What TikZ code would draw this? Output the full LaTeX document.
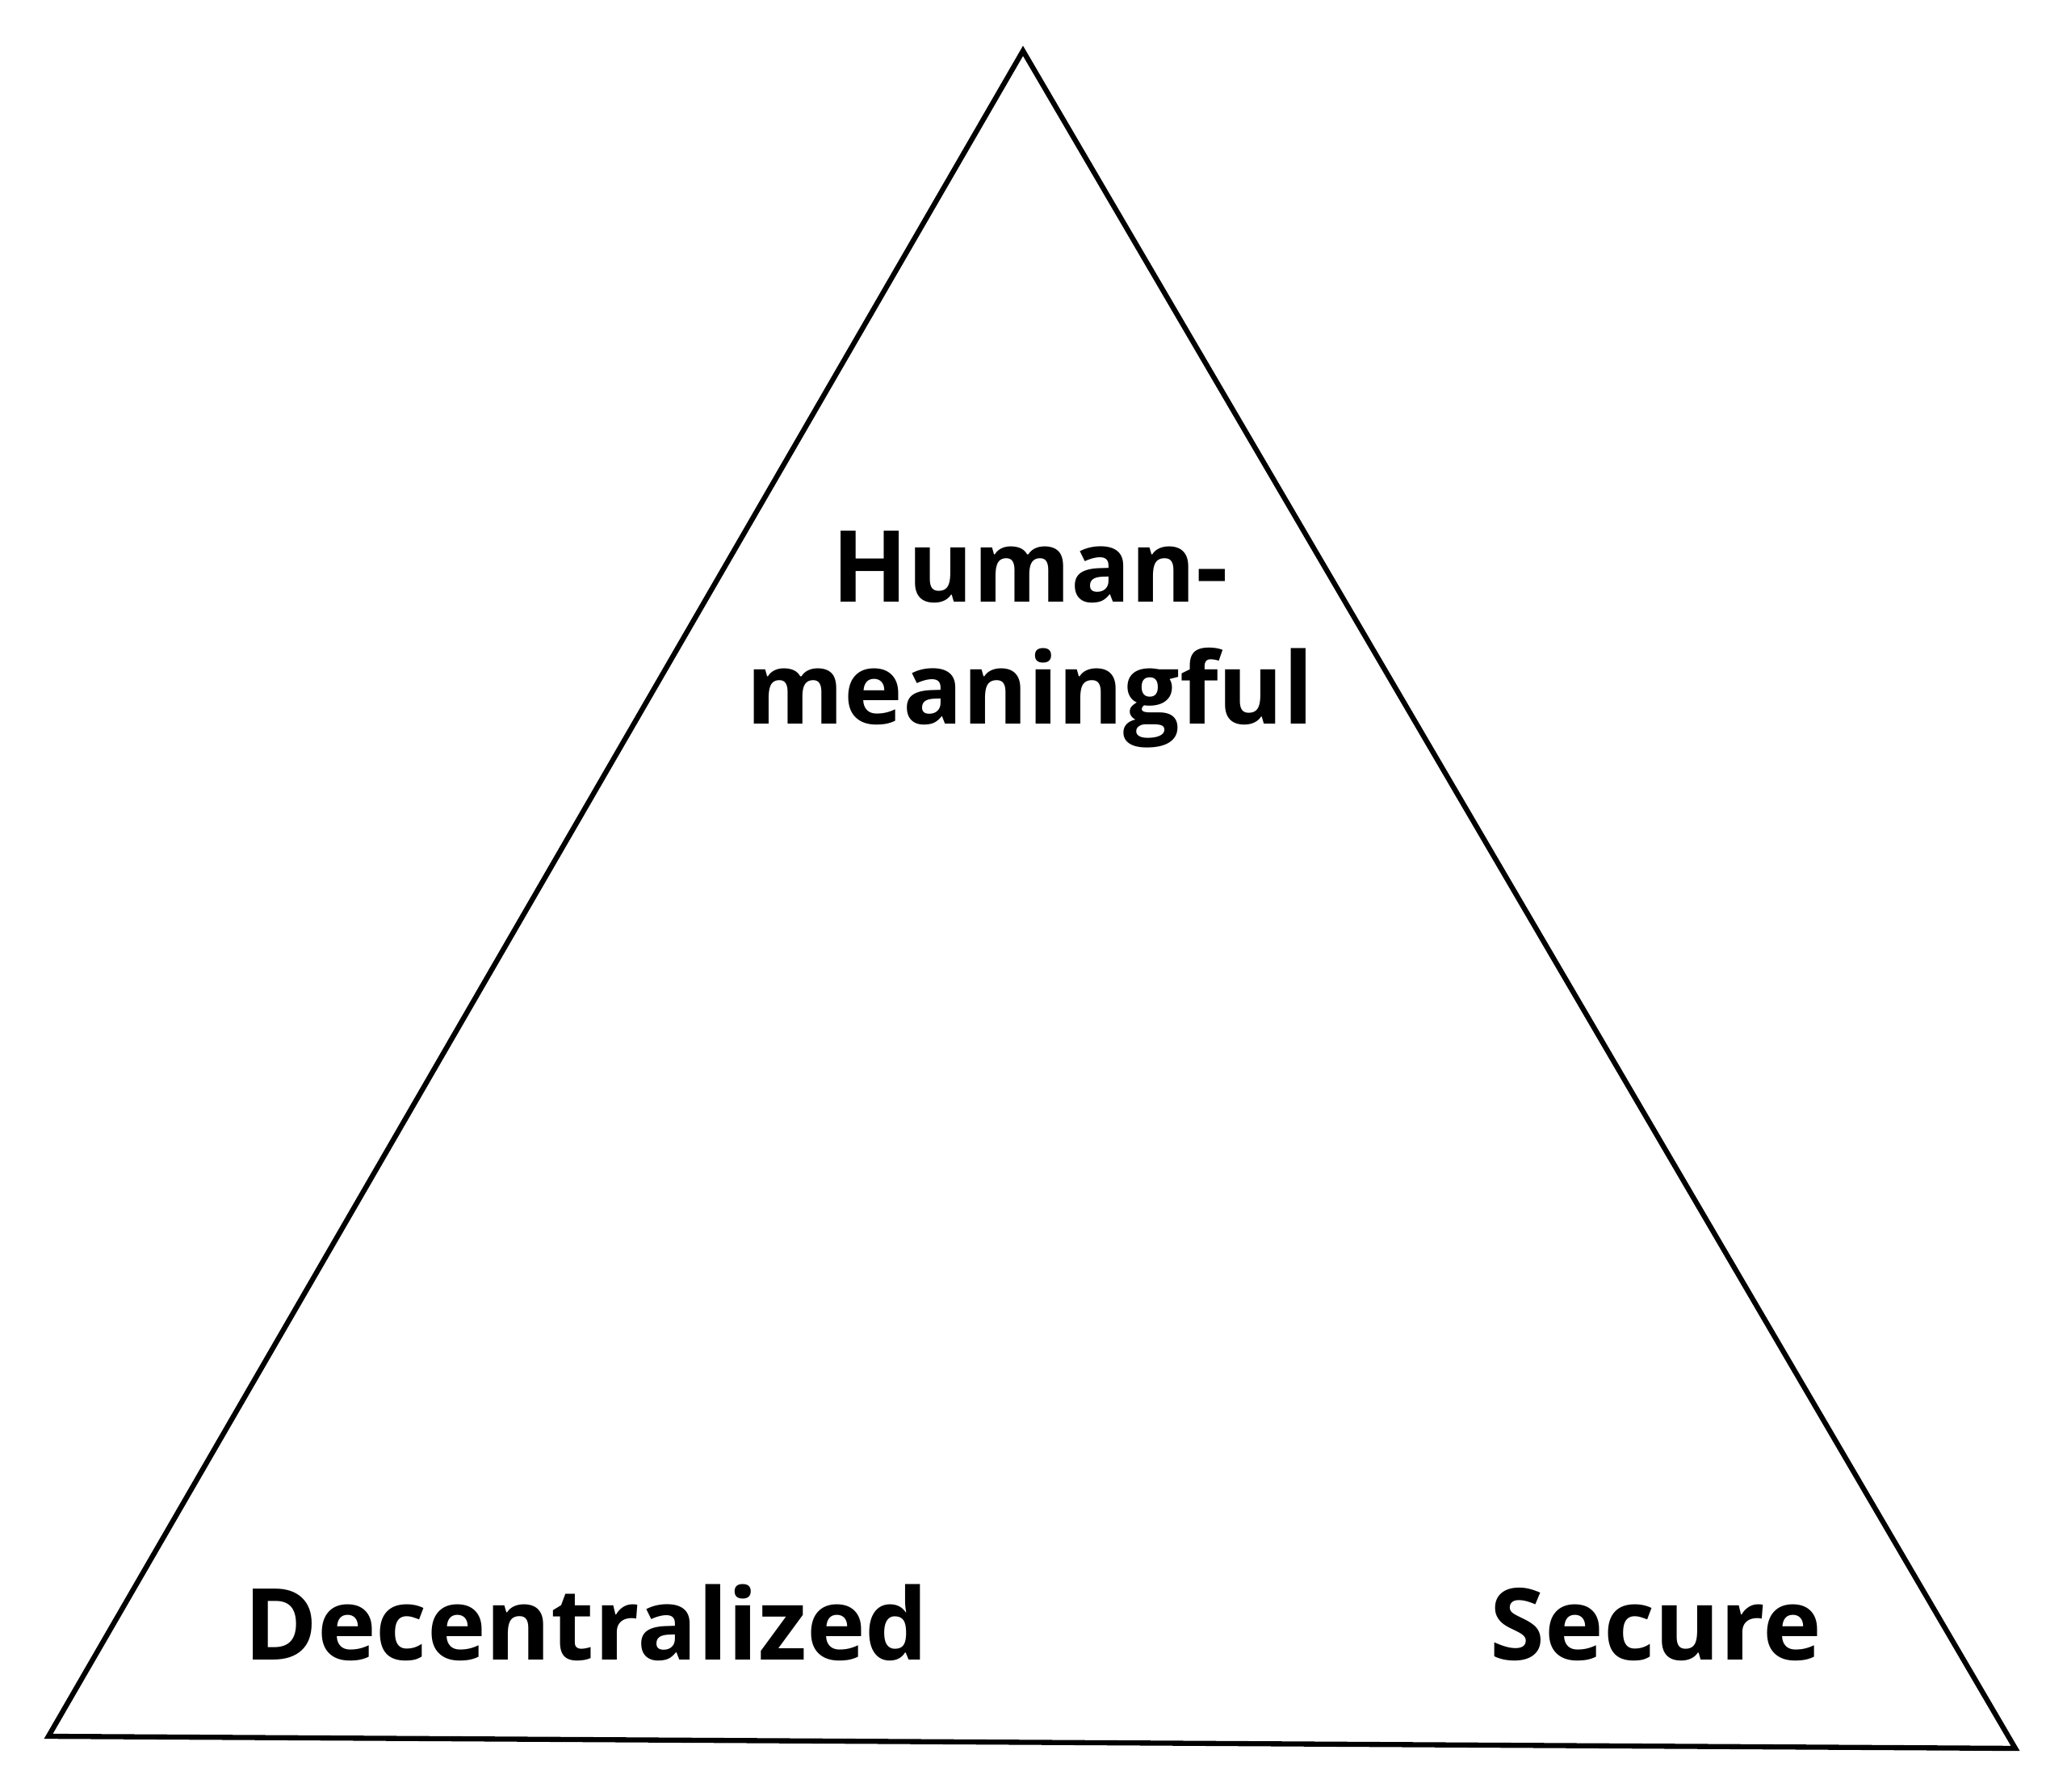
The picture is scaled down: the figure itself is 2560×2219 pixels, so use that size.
\documentclass[tikz,border=0pt]{standalone}
\usepackage{fontspec}
\setmainfont{Open Sans}
\begin{document}
\begin{tikzpicture}[x=0.01cm,y=-0.01cm,
  lbl/.style={font=\fontsize{35pt}{43pt}\selectfont\bfseries, inner sep=0pt, align=center, anchor=base}]
\useasboundingbox (0,0) rectangle (2560,2219);
\coordinate (top) at (1267,63);
\coordinate (bl) at (60,2150);
\coordinate (br) at (2496,2165);
\draw[line width=1.8pt, line join=miter] (top) -- (br) -- (bl) -- cycle;
\node[lbl] (hm) at (1276,897) {Human-\\meaningful};
\node[lbl] (dec) at (726,2055) {Decentralized};
\node[lbl] (sec) at (2051,2055) {Secure};
\end{tikzpicture}
\end{document}
